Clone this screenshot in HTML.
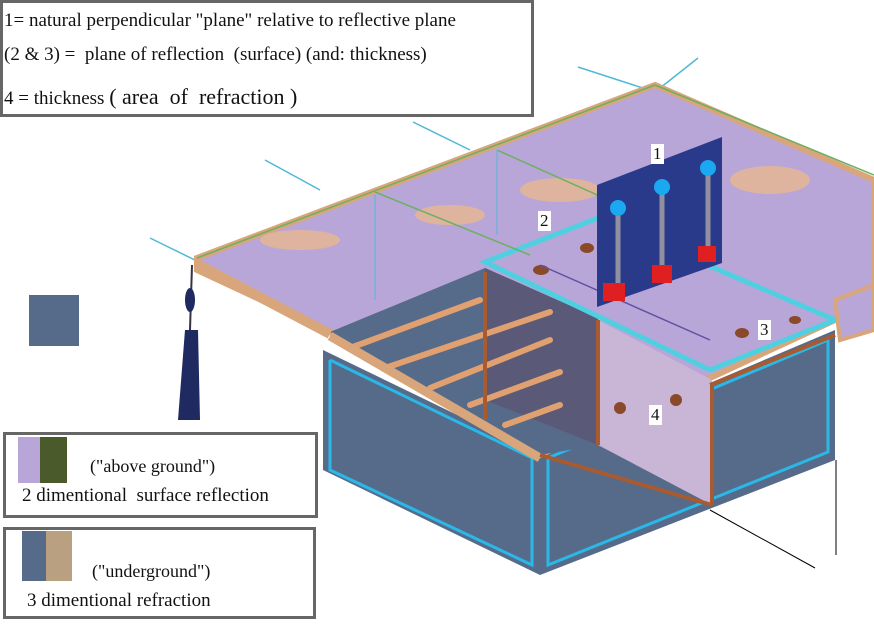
<!DOCTYPE html>
<html><head><meta charset="utf-8"><style>
body{margin:0;background:#fff;width:874px;height:627px;overflow:hidden;position:relative;font-family:"Liberation Serif",serif}
.box{position:absolute;background:#fff;border:3px solid #666;box-sizing:border-box}
.t{position:absolute;white-space:nowrap;color:#111}
</style></head><body>
<svg width="874" height="627" style="position:absolute;left:0;top:0">
<g stroke="#4fb8d8" stroke-width="1.5">
<line x1="150" y1="238" x2="205" y2="265"/><line x1="265" y1="160" x2="320" y2="190"/>
<line x1="413" y1="122" x2="470" y2="150"/><line x1="578" y1="67" x2="655" y2="92"/>
<line x1="655" y1="92" x2="698" y2="58"/>
</g>
<!-- underground box -->
<polygon points="323,350 540,455 835,330 835,460 540,575 323,470" fill="#566b8a"/>
<polyline points="330,360 532,458 532,565 330,470 330,360" fill="none" stroke="#2ab8e8" stroke-width="3"/>
<polyline points="548,458 828,340 828,452 548,565 548,458" fill="none" stroke="#2ab8e8" stroke-width="3"/>
<!-- top slab -->
<polygon points="197,258 655,85 874,180 874,300 835,320 710,378 540,455 330,332 197,270" fill="#b9a6d8" stroke="#d8a67a" stroke-width="6"/>
<g fill="#e8b890" opacity=".8">
<ellipse cx="560" cy="190" rx="40" ry="12"/><ellipse cx="450" cy="215" rx="35" ry="10"/>
<ellipse cx="770" cy="180" rx="40" ry="14"/><ellipse cx="300" cy="240" rx="40" ry="10"/>
</g>
<!-- interior opening -->
<polygon points="330,332 485,268 598,318 598,445 540,455" fill="#566b8a"/>
<polygon points="485,268 598,318 598,445 485,400" fill="#5a5a78"/>
<polygon points="598,320 712,380 712,505 598,445" fill="#c9b6d6"/>
<g stroke="#e0a070" stroke-width="6" stroke-linecap="round">
<line x1="350" y1="348" x2="480" y2="300"/><line x1="385" y1="368" x2="550" y2="312"/>
<line x1="430" y1="388" x2="550" y2="340"/><line x1="470" y1="405" x2="560" y2="372"/>
<line x1="505" y1="425" x2="560" y2="405"/>
</g>
<line x1="330" y1="336" x2="540" y2="458" stroke="#d8a67a" stroke-width="9"/>
<line x1="197" y1="264" x2="330" y2="334" stroke="#d8a67a" stroke-width="10"/>
<g stroke="#a85a30" stroke-width="4" fill="none">
<line x1="485" y1="272" x2="485" y2="420"/><line x1="598" y1="320" x2="598" y2="445"/>
<line x1="712" y1="385" x2="712" y2="505"/><line x1="540" y1="455" x2="712" y2="505"/>
<line x1="710" y1="385" x2="835" y2="335"/>
</g>
<!-- glass layer -->
<polygon points="485,262 598,218 835,320 710,370" fill="#b9a6d8" stroke="#4fd0e0" stroke-width="5"/>
<polygon points="835,300 874,285 874,330 840,340" fill="#b9a6d8" stroke="#d8a67a" stroke-width="4"/>
<g stroke="#6cb060" stroke-width="1.5" fill="none">
<line x1="197" y1="258" x2="655" y2="85"/><line x1="655" y1="85" x2="874" y2="175"/>
<line x1="375" y1="192" x2="530" y2="255"/><line x1="497" y1="150" x2="720" y2="250"/>
</g>
<g stroke="#4fb8d8" stroke-width="1"><line x1="375" y1="195" x2="375" y2="300"/><line x1="497" y1="150" x2="497" y2="235"/></g>
<g fill="#8a4a2a"><ellipse cx="587" cy="248" rx="7" ry="5"/><ellipse cx="541" cy="270" rx="8" ry="5"/><ellipse cx="742" cy="333" rx="7" ry="5"/><ellipse cx="795" cy="320" rx="6" ry="4"/><ellipse cx="620" cy="408" rx="6" ry="6"/><ellipse cx="676" cy="400" rx="6" ry="6"/></g>
<line x1="540" y1="265" x2="710" y2="340" stroke="#6050a0" stroke-width="1.5"/>
<!-- panel 1 -->
<polygon points="597,185 722,137 722,263 597,307" fill="#2a3a8a"/>
<g stroke="#9090a0" stroke-width="5"><line x1="618" y1="210" x2="618" y2="290"/><line x1="662" y1="190" x2="662" y2="270"/><line x1="708" y1="170" x2="708" y2="250"/></g>
<g fill="#1aa8f0"><circle cx="618" cy="208" r="8"/><circle cx="662" cy="187" r="8"/><circle cx="708" cy="168" r="8"/></g>
<g fill="#e02020"><rect x="603" y="283" width="22" height="18"/><rect x="652" y="265" width="20" height="18"/><rect x="698" y="246" width="18" height="16"/></g>
<rect x="29" y="295" width="50" height="51" fill="#566b8a"/>
<line x1="192" y1="265" x2="190" y2="330" stroke="#334" stroke-width="2"/>
<polygon points="185,330 198,330 200,420 178,420" fill="#1e2a60"/>
<ellipse cx="190" cy="300" rx="5" ry="12" fill="#1e2a60"/>
<line x1="710" y1="510" x2="815" y2="568" stroke="#000" stroke-width="1"/>
<line x1="836" y1="460" x2="836" y2="555" stroke="#000" stroke-width="1"/>
</svg>
<div class="box" style="left:0;top:0;width:534px;height:117px"></div>
<div class="t" style="left:4px;top:10px;font-size:19px">1= natural perpendicular "plane" relative to reflective plane</div>
<div class="t" style="left:4px;top:44px;font-size:19px">(2 &amp; 3) =&nbsp; plane of reflection&nbsp; (surface) (and: thickness)</div>
<div class="t" style="left:4px;top:84px;font-size:19px">4 = thickness <span style="font-size:22px">( area&nbsp; of&nbsp; refraction )</span></div>
<div class="t" style="left:651px;top:144px;font-size:17px;background:#fff;padding:0 2px">1</div>
<div class="t" style="left:538px;top:211px;font-size:17px;background:#fff;padding:0 2px">2</div>
<div class="t" style="left:758px;top:320px;font-size:17px;background:#fff;padding:0 2px">3</div>
<div class="t" style="left:649px;top:405px;font-size:17px;background:#fff;padding:0 2px">4</div>
<div class="box" style="left:3px;top:432px;width:315px;height:86px"></div>
<div style="position:absolute;left:18px;top:437px;width:22px;height:46px;background:#b9a6d8"></div>
<div style="position:absolute;left:40px;top:437px;width:27px;height:46px;background:#4a5a2a"></div>
<div class="t" style="left:90px;top:456px;font-size:18px">("above ground")</div>
<div class="t" style="left:22px;top:485px;font-size:19px">2 dimentional&nbsp; surface reflection</div>
<div class="box" style="left:3px;top:527px;width:313px;height:92px"></div>
<div style="position:absolute;left:22px;top:531px;width:24px;height:50px;background:#566b8a"></div>
<div style="position:absolute;left:46px;top:531px;width:26px;height:50px;background:#b8a080"></div>
<div class="t" style="left:92px;top:561px;font-size:18px">("underground")</div>
<div class="t" style="left:27px;top:590px;font-size:19px">3 dimentional refraction</div>
</body></html>
